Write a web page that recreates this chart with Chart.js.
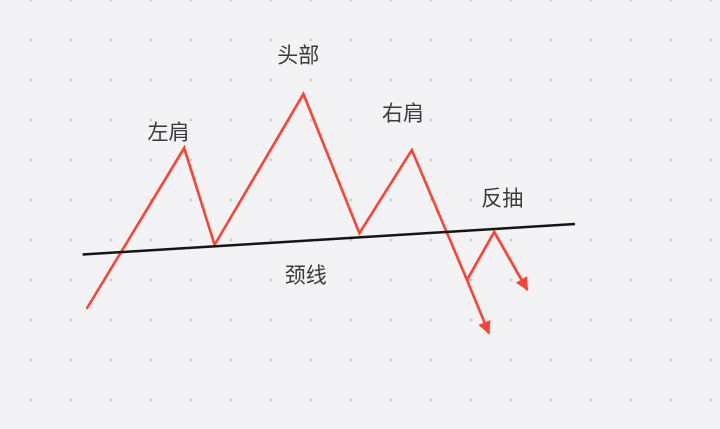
<!DOCTYPE html>
<html lang="zh">
<head>
  <meta charset="utf-8">
  <title>头肩顶</title>
  <script src="https://cdn.jsdelivr.net/npm/chart.js"></script>
  <style>
    html, body { margin: 0; padding: 0; background: #f3f3f5; }
    .chart-box { width: 720px; height: 429px; position: relative; }
  </style>
</head>
<body>
  <div class="chart-box"><canvas id="hsChart"></canvas></div>

  <script>
    // price path (time step, price)
    const pathT = [1.39, 3.83, 4.59, 6.81, 8.21, 9.52, 10.90, 11.45];
    const pathP = [2.28, 6.30, 3.88, 7.65, 4.17, 6.25, 3.00, 1.66];

    // pullback after the break
    const pullT = [10.90, 11.58, 12.41];
    const pullP = [3.00, 4.20, 2.75];

    // neckline
    const neckT = [1.29, 13.60];
    const neckP = [3.64, 4.40];

    // annotations
    const labelNames = ['左肩', '头部', '右肩', '反抽', '颈线'];
    const labelT = [3.44, 6.68, 9.30, 11.78, 6.87];
    const labelP = [6.72, 8.64, 7.19, 5.08, 3.16];

    const RED = '#fc4435';

    const toPoints = (xs, ys) => xs.map((x, i) => ({ x: x, y: ys[i] }));

    // dotted background on whole units of both scales
    const dotGrid = {
      id: 'dotGrid',
      beforeDatasetsDraw(chart) {
        const { ctx, scales: { x, y } } = chart;
        ctx.save();
        ctx.fillStyle = '#c9c9cc';
        for (let t = Math.ceil(x.min); t <= Math.floor(x.max); t++) {
          for (let p = Math.ceil(y.min); p <= Math.floor(y.max); p++) {
            const px = x.getPixelForValue(t), py = y.getPixelForValue(p);
            ctx.fillRect(px - 1.25, py - 1.25, 2.5, 2.5);
          }
        }
        ctx.restore();
      }
    };

    // arrow heads at the last point of flagged datasets
    const arrowHeads = {
      id: 'arrowHeads',
      afterDatasetsDraw(chart) {
        const ctx = chart.ctx;
        chart.data.datasets.forEach((ds, i) => {
          if (!ds.arrow) return;
          const pts = chart.getDatasetMeta(i).data;
          const a = pts[pts.length - 2], b = pts[pts.length - 1];
          const dx = b.x - a.x, dy = b.y - a.y;
          const len = Math.hypot(dx, dy);
          const ux = dx / len, uy = dy / len;
          const tipX = b.x + ux, tipY = b.y + uy;
          const baseX = tipX - ux * 13, baseY = tipY - uy * 13;
          ctx.save();
          ctx.fillStyle = ds.borderColor;
          ctx.beginPath();
          ctx.moveTo(tipX, tipY);
          ctx.lineTo(baseX - uy * 6.5, baseY + ux * 6.5);
          ctx.lineTo(baseX + uy * 6.5, baseY - ux * 6.5);
          ctx.closePath();
          ctx.fill();
          ctx.restore();
        });
      }
    };

    // text annotations anchored on the scales
    const textLabels = {
      id: 'textLabels',
      afterDatasetsDraw(chart) {
        const { ctx, scales: { x, y } } = chart;
        ctx.save();
        ctx.font = '21px "Noto Sans CJK SC", "Noto Sans", sans-serif';
        ctx.fillStyle = '#3a3a3a';
        ctx.textAlign = 'center';
        ctx.textBaseline = 'middle';
        labelNames.forEach((name, i) => {
          ctx.fillText(name, x.getPixelForValue(labelT[i]), y.getPixelForValue(labelP[i]));
        });
        ctx.restore();
      }
    };

    new Chart(document.getElementById('hsChart').getContext('2d'), {
      type: 'scatter',
      data: {
        datasets: [
          {
            label: '颈线', data: toPoints(neckT, neckP), showLine: true,
            borderColor: '#151515', borderWidth: 2.5, pointRadius: 0
          },
          {
            label: '走势', data: toPoints(pathT, pathP), showLine: true, arrow: true,
            borderColor: RED, borderWidth: 2.6, pointRadius: 0, borderJoinStyle: 'miter'
          },
          {
            label: '反抽', data: toPoints(pullT, pullP), showLine: true, arrow: true,
            borderColor: RED, borderWidth: 2.6, pointRadius: 0, borderJoinStyle: 'miter'
          }
        ]
      },
      options: {
        responsive: true,
        maintainAspectRatio: false,
        animation: false,
        layout: { padding: 0 },
        plugins: { legend: { display: false }, tooltip: { enabled: false } },
        scales: {
          x: { type: 'linear', display: false, min: -0.775, max: 17.225 },
          y: { type: 'linear', display: false, min: -0.725, max: 10 }
        }
      },
      plugins: [dotGrid, arrowHeads, textLabels]
    });
  </script>
</body>
</html>
